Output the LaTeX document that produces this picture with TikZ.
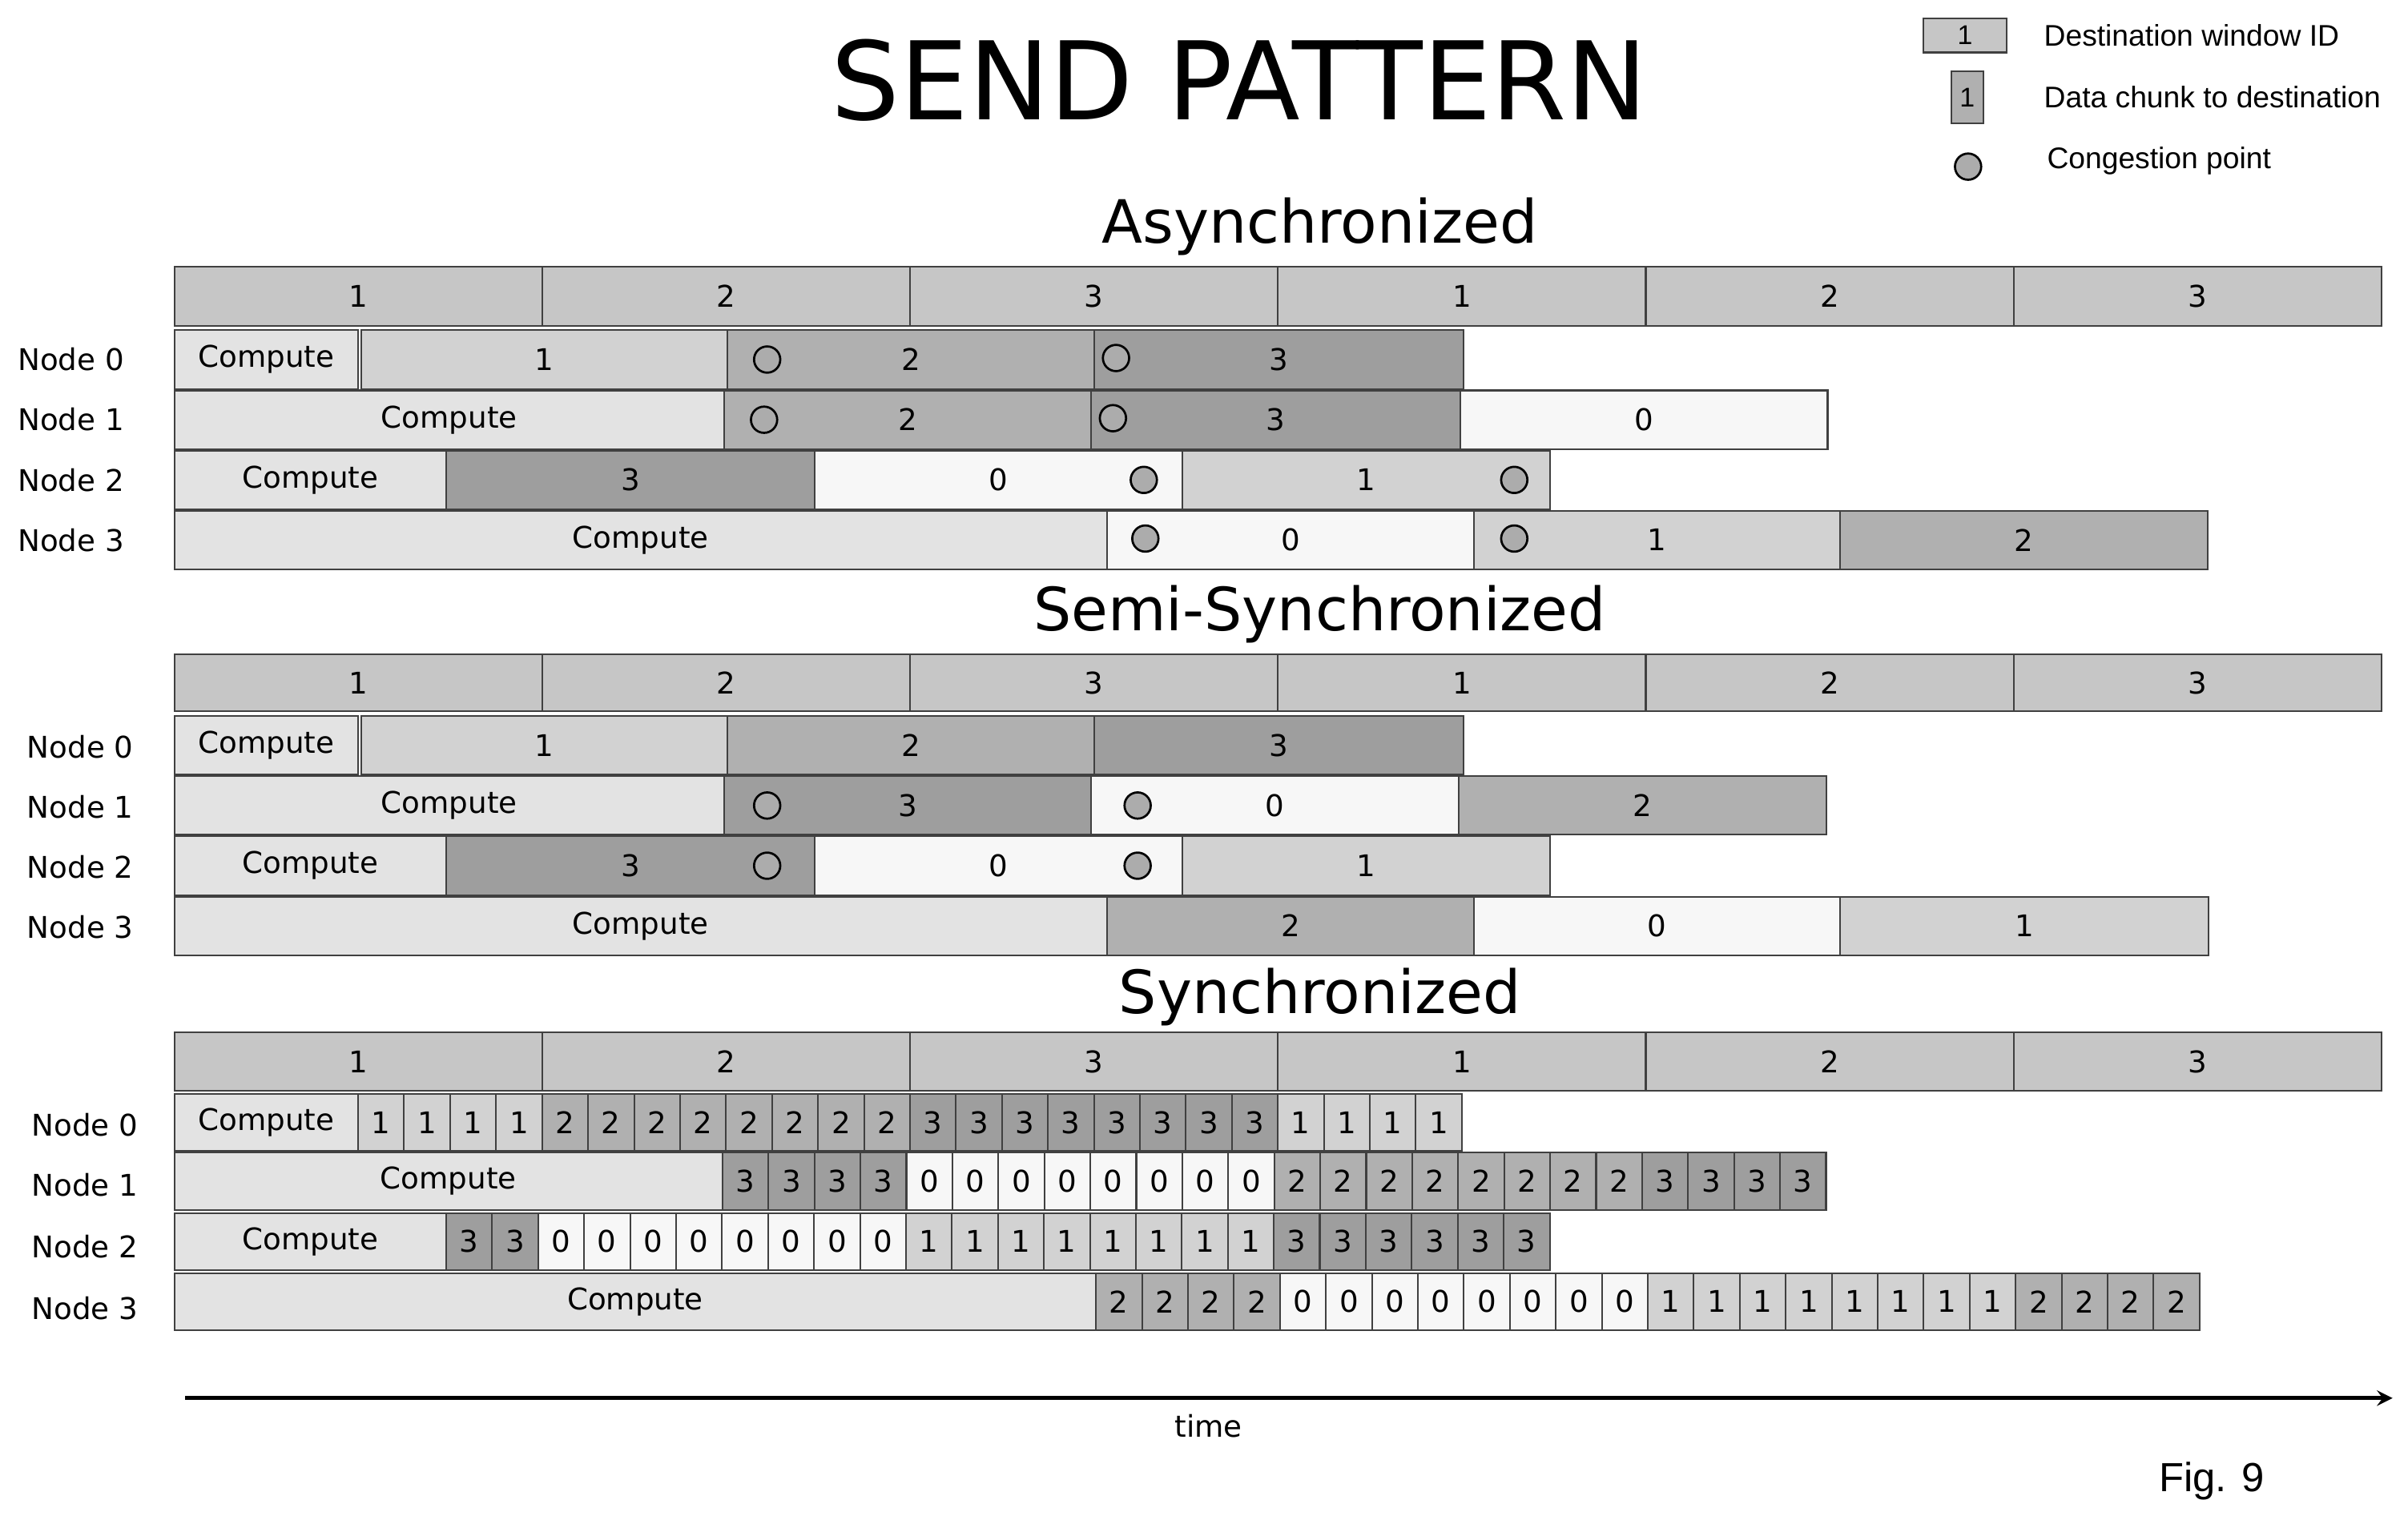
\documentclass[tikz,border=0pt]{standalone}
\usepackage{fontspec}
\setmainfont{DejaVu Sans}
\newfontfamily\arialfont{Liberation Sans}
\colorlet{cz}{gray!6}
\colorlet{cone}{gray!35}
\colorlet{ctwo}{gray!62}
\colorlet{cthree}{gray!76}
\colorlet{ccomp}{gray!22}
\colorlet{chdr}{gray!45}
\tikzset{
  seg/.style={draw=black!75, line width=0.6pt},
  rowlabel/.style={anchor=center, font=\fontsize{11}{13}\selectfont},
  dot/.style={circle, draw=black, fill=gray!65, line width=0.8pt, minimum size=0.34cm, inner sep=0pt},
  sectitle/.style={font=\fontsize{22}{26}\selectfont},
}
% block: x1, x2, y1, y2, fill, label
\newcommand{\blk}[6]{%
  \filldraw[seg, fill=#5] ({#1},{#3}) rectangle ({#2},{#4});
  \node[font=\fontsize{11}{13}\selectfont] at ({((#1)+(#2))/2},{((#3)+(#4))/2}) {#6};}
% cells: x0, count, y1, y2, fill, label
\newcommand{\cells}[6]{%
  \foreach \k in {1,...,#2}{\blk{#1+(\k-1)*29.79}{#1+\k*29.79}{#3}{#4}{#5}{#6}}}
% header bar at y1, y2
\newcommand{\hdr}[2]{%
  \foreach \lab [count=\j from 0] in {1,2,3,1,2,3}{\blk{113+\j*238.3}{113+(\j+1)*238.3}{#1}{#2}{chdr}{\lab}}}

\begin{document}
\begin{tikzpicture}[x=0.02cm, y=-0.02cm]
\useasboundingbox[fill=white] (0,0) rectangle (1560,982);

% title and legend
\node (title) at (803,52) {\fontsize{40}{44}\selectfont SEND PATTERN};
\filldraw[seg, fill=chdr] (1246,12) rectangle (1300,34);
\node at (1273,23) {\arialfont\fontsize{10}{12}\selectfont 1};
\filldraw[seg, fill=ctwo] (1264,46) rectangle (1285,80);
\node at (1274.5,63) {\arialfont\fontsize{10}{12}\selectfont 1};
\node[dot] (legdot) at (1275,108) {};
\node[anchor=west] (legwin) at (1318,23) {\arialfont\fontsize{11}{13}\selectfont Destination window ID};
\node[anchor=west] (legchunk) at (1318,63) {\arialfont\fontsize{11}{13}\selectfont Data chunk to destination};
\node[anchor=west] (legcong) at (1320,104) {\arialfont\fontsize{11}{13}\selectfont Congestion point};

% Asynchronized
\node[sectitle] (async) at (855,147) {Asynchronized};
\hdr{173}{211}
\node[rowlabel] (a0) at (46,233) {Node 0};
\node[rowlabel] (a1) at (46,272) {Node 1};
\node[rowlabel] (a2) at (46,311) {Node 2};
\node[rowlabel] (a3) at (46,350) {Node 3};
\blk{113}{232}{214}{252}{ccomp}{Compute}
\blk{234}{471}{214}{252}{cone}{1}
\blk{471}{709}{214}{252}{ctwo}{2}
\blk{709}{948}{214}{252}{cthree}{3}
\blk{113}{469}{253}{291}{ccomp}{Compute}
\blk{469}{707}{253}{291}{ctwo}{2}
\blk{707}{946}{253}{291}{cthree}{3}
\blk{946}{1184}{253}{291}{cz}{0}
\blk{113}{289}{292}{330}{ccomp}{Compute}
\blk{289}{528}{292}{330}{cthree}{3}
\blk{528}{766}{292}{330}{cz}{0}
\blk{766}{1004}{292}{330}{cone}{1}
\blk{113}{717}{331}{369}{ccomp}{Compute}
\blk{717}{955}{331}{369}{cz}{0}
\blk{955}{1192}{331}{369}{cone}{1}
\blk{1192}{1430}{331}{369}{ctwo}{2}
\foreach \px/\py in {497/233, 723/232, 495/272, 721/271, 741/311, 981/311, 742/349, 981/349}
  \node[dot] at (\px,\py) {};

% Semi-Synchronized
\node[sectitle] (semi) at (855,398) {Semi-Synchronized};
\hdr{424}{461}
\node[rowlabel] (s0) at (52,484) {Node 0};
\node[rowlabel] (s1) at (52,523) {Node 1};
\node[rowlabel] (s2) at (52,562) {Node 2};
\node[rowlabel] (s3) at (52,601) {Node 3};
\blk{113}{232}{464}{502}{ccomp}{Compute}
\blk{234}{471}{464}{502}{cone}{1}
\blk{471}{709}{464}{502}{ctwo}{2}
\blk{709}{948}{464}{502}{cthree}{3}
\blk{113}{469}{503}{541}{ccomp}{Compute}
\blk{469}{707}{503}{541}{cthree}{3}
\blk{707}{945}{503}{541}{cz}{0}
\blk{945}{1183}{503}{541}{ctwo}{2}
\blk{113}{289}{542}{580}{ccomp}{Compute}
\blk{289}{528}{542}{580}{cthree}{3}
\blk{528}{766}{542}{580}{cz}{0}
\blk{766}{1004}{542}{580}{cone}{1}
\blk{113}{717}{581}{619}{ccomp}{Compute}
\blk{717}{955}{581}{619}{ctwo}{2}
\blk{955}{1192}{581}{619}{cz}{0}
\blk{1192}{1431}{581}{619}{cone}{1}
\foreach \px/\py in {497/522, 737/522, 497/561, 737/561}
  \node[dot] at (\px,\py) {};

% Synchronized
\node[sectitle] (sync) at (855,646) {Synchronized};
\hdr{669}{707}
\node[rowlabel] (y0) at (55,729) {Node 0};
\node[rowlabel] (y1) at (55,768) {Node 1};
\node[rowlabel] (y2) at (55,808) {Node 2};
\node[rowlabel] (y3) at (55,848) {Node 3};
\blk{113}{232}{709}{746}{ccomp}{Compute}
\cells{232}{4}{709}{746}{cone}{1}
\cells{351.2}{8}{709}{746}{ctwo}{2}
\cells{589.5}{8}{709}{746}{cthree}{3}
\cells{827.8}{4}{709}{746}{cone}{1}
\blk{113}{468}{747}{784}{ccomp}{Compute}
\cells{468}{4}{747}{784}{cthree}{3}
\cells{587.2}{8}{747}{784}{cz}{0}
\cells{825.5}{8}{747}{784}{ctwo}{2}
\cells{1063.8}{4}{747}{784}{cthree}{3}
\blk{113}{289}{786}{823}{ccomp}{Compute}
\cells{289}{2}{786}{823}{cthree}{3}
\cells{348.6}{8}{786}{823}{cz}{0}
\cells{586.9}{8}{786}{823}{cone}{1}
\cells{825.2}{6}{786}{823}{cthree}{3}
\blk{113}{710}{825}{862}{ccomp}{Compute}
\cells{710}{4}{825}{862}{ctwo}{2}
\cells{829.2}{8}{825}{862}{cz}{0}
\cells{1067.5}{8}{825}{862}{cone}{1}
\cells{1305.8}{4}{825}{862}{ctwo}{2}

% time axis
\coordinate (t0) at (120,906);
\coordinate (t1) at (1550,906);
\draw[line width=1.5pt, -stealth] (t0) -- (t1);
\node (time) at (783,924) {\fontsize{11}{13}\selectfont time};
\node (fig) at (1433,960) {\arialfont\fontsize{15}{18}\selectfont Fig. 9};
\end{tikzpicture}
\end{document}
